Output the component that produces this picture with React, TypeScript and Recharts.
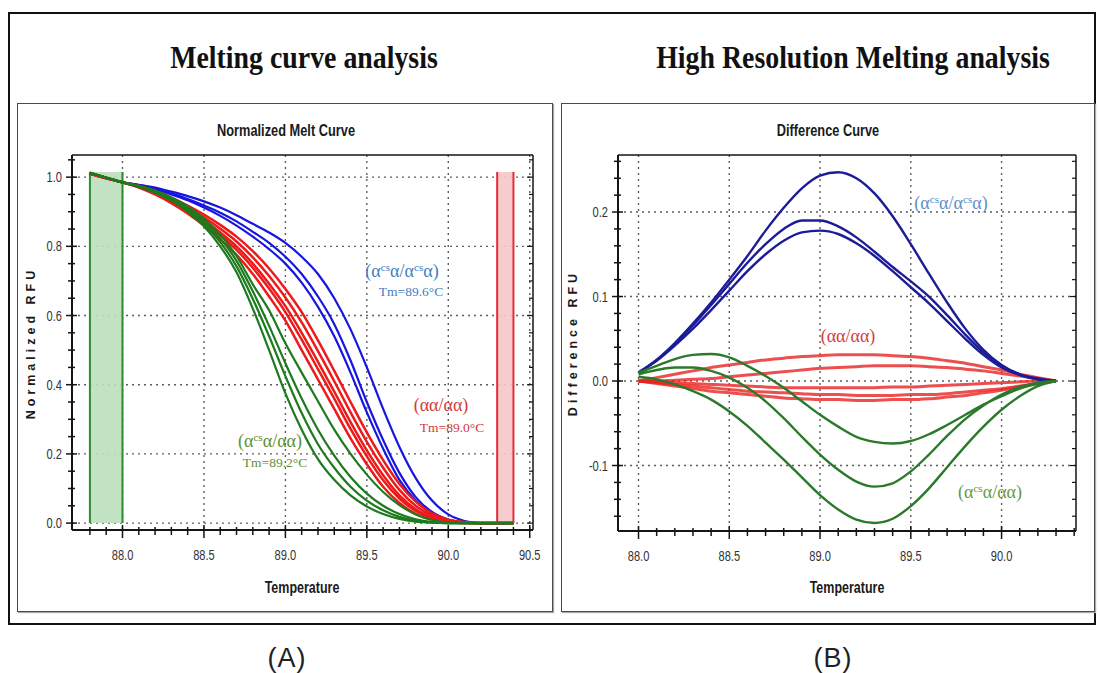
import React from "react";
import {
  LineChart,
  Line,
  XAxis,
  YAxis,
  CartesianGrid,
  ReferenceArea,
  ReferenceLine,
} from "recharts";

// ---------- (A) Normalized melt curve ----------
const MELT_TEMPS = [
  87.8, 87.9, 88.0, 88.1, 88.2, 88.3, 88.4, 88.5, 88.6, 88.7, 88.8, 88.9, 89.0, 89.1,
  89.2, 89.3, 89.4, 89.5, 89.6, 89.7, 89.8, 89.9, 90.0, 90.1, 90.2, 90.3, 90.4,
];
const MELT_BLUE_1 = [1.012, 0.998, 0.985, 0.978, 0.97, 0.958, 0.945, 0.93, 0.912, 0.89, 0.865, 0.84, 0.81, 0.77, 0.72, 0.65, 0.56, 0.45, 0.33, 0.22, 0.13, 0.065, 0.025, 0.006, 0, 0, 0];
const MELT_BLUE_2 = [1.01, 0.997, 0.985, 0.977, 0.967, 0.953, 0.937, 0.918, 0.897, 0.872, 0.842, 0.81, 0.77, 0.72, 0.655, 0.575, 0.47, 0.35, 0.24, 0.145, 0.075, 0.032, 0.01, 0.002, 0, 0, 0];
const MELT_BLUE_3 = [1.011, 0.997, 0.985, 0.976, 0.965, 0.95, 0.933, 0.912, 0.888, 0.86, 0.828, 0.792, 0.75, 0.695, 0.625, 0.54, 0.435, 0.32, 0.215, 0.125, 0.065, 0.027, 0.008, 0.001, 0, 0, 0];
const MELT_RED_1 = [1.01, 0.997, 0.985, 0.97, 0.95, 0.925, 0.895, 0.86, 0.82, 0.775, 0.72, 0.655, 0.585, 0.5, 0.415, 0.33, 0.245, 0.17, 0.105, 0.058, 0.027, 0.01, 0.003, 0, 0, 0, 0];
const MELT_RED_2 = [1.011, 0.997, 0.985, 0.972, 0.953, 0.93, 0.902, 0.869, 0.832, 0.79, 0.738, 0.678, 0.61, 0.53, 0.445, 0.36, 0.272, 0.193, 0.124, 0.071, 0.035, 0.014, 0.004, 0.001, 0, 0, 0];
const MELT_RED_3 = [1.012, 0.998, 0.985, 0.973, 0.955, 0.933, 0.906, 0.875, 0.84, 0.8, 0.75, 0.692, 0.627, 0.55, 0.466, 0.38, 0.292, 0.21, 0.138, 0.08, 0.04, 0.017, 0.005, 0.001, 0, 0, 0];
const MELT_RED_4 = [1.01, 0.998, 0.985, 0.974, 0.957, 0.937, 0.912, 0.884, 0.851, 0.814, 0.768, 0.714, 0.652, 0.58, 0.497, 0.41, 0.32, 0.235, 0.16, 0.096, 0.05, 0.022, 0.008, 0.002, 0, 0, 0];
const MELT_RED_5 = [1.011, 0.998, 0.985, 0.975, 0.96, 0.941, 0.918, 0.892, 0.862, 0.828, 0.786, 0.736, 0.677, 0.61, 0.528, 0.44, 0.35, 0.262, 0.182, 0.113, 0.062, 0.028, 0.01, 0.003, 0, 0, 0];
const MELT_GREEN_1 = [1.013, 0.999, 0.985, 0.972, 0.955, 0.932, 0.9, 0.858, 0.8, 0.725, 0.62, 0.5, 0.375, 0.27, 0.185, 0.125, 0.08, 0.048, 0.026, 0.012, 0.004, 0.001, 0, 0, 0, 0, 0];
const MELT_GREEN_2 = [1.012, 0.999, 0.985, 0.973, 0.957, 0.935, 0.905, 0.865, 0.812, 0.742, 0.648, 0.54, 0.425, 0.318, 0.228, 0.16, 0.105, 0.065, 0.037, 0.018, 0.007, 0.002, 0, 0, 0, 0, 0];
const MELT_GREEN_3 = [1.012, 0.998, 0.985, 0.974, 0.959, 0.938, 0.91, 0.872, 0.823, 0.758, 0.67, 0.57, 0.462, 0.36, 0.27, 0.195, 0.133, 0.085, 0.05, 0.026, 0.011, 0.003, 0, 0, 0, 0, 0];
const MELT_GREEN_4 = [1.013, 0.999, 0.985, 0.975, 0.961, 0.941, 0.915, 0.88, 0.834, 0.772, 0.69, 0.615, 0.52, 0.435, 0.352, 0.27, 0.2, 0.14, 0.09, 0.052, 0.025, 0.009, 0.002, 0, 0, 0, 0];

const MELT_X_MAJOR = [88.0, 88.5, 89.0, 89.5, 90.0, 90.5];
const MELT_Y_MAJOR = [0, 0.2, 0.4, 0.6, 0.8, 1.0];
const MELT_X_DOMAIN = [87.69, 90.52];
const MELT_Y_DOMAIN = [-0.02, 1.064];
const GREEN_BAND = [87.8, 88.0];
const RED_BAND = [90.3, 90.4];
const BAND_TOP = 1.015;

// ---------- (B) Difference curve ----------
const DIFF_TEMPS = [
  88.0, 88.1, 88.2, 88.3, 88.4, 88.5, 88.6, 88.7, 88.8, 88.9, 89.0, 89.1, 89.2, 89.3,
  89.4, 89.5, 89.6, 89.7, 89.8, 89.9, 90.0, 90.1, 90.2, 90.3,
];
const DIFF_BLUE_1 = [0.01, 0.025, 0.045, 0.068, 0.093, 0.12, 0.148, 0.178, 0.205, 0.228, 0.243, 0.247, 0.24, 0.222, 0.195, 0.162, 0.127, 0.093, 0.062, 0.037, 0.019, 0.008, 0.003, 0];
const DIFF_BLUE_2 = [0.01, 0.025, 0.044, 0.066, 0.09, 0.115, 0.14, 0.162, 0.18, 0.19, 0.19, 0.183, 0.17, 0.153, 0.135, 0.118, 0.1, 0.078, 0.055, 0.034, 0.018, 0.008, 0.002, 0];
const DIFF_BLUE_3 = [0.01, 0.024, 0.042, 0.062, 0.084, 0.107, 0.13, 0.15, 0.166, 0.176, 0.178, 0.174, 0.163, 0.148, 0.13, 0.111, 0.092, 0.071, 0.05, 0.031, 0.016, 0.007, 0.002, 0];
const DIFF_RED_1 = [0, 0.004, 0.008, 0.012, 0.016, 0.019, 0.022, 0.025, 0.027, 0.029, 0.03, 0.031, 0.031, 0.031, 0.03, 0.029, 0.027, 0.024, 0.021, 0.017, 0.013, 0.008, 0.004, 0];
const DIFF_RED_2 = [0, 0, 0.001, 0.002, 0.003, 0.005, 0.007, 0.009, 0.011, 0.013, 0.015, 0.016, 0.017, 0.018, 0.018, 0.018, 0.017, 0.016, 0.014, 0.012, 0.009, 0.006, 0.003, 0];
const DIFF_RED_3 = [0, -0.001, -0.002, -0.003, -0.004, -0.005, -0.006, -0.007, -0.008, -0.008, -0.008, -0.008, -0.008, -0.008, -0.007, -0.007, -0.006, -0.005, -0.004, -0.003, -0.002, -0.001, 0, 0];
const DIFF_RED_4 = [0, -0.002, -0.004, -0.006, -0.008, -0.01, -0.012, -0.013, -0.014, -0.015, -0.016, -0.016, -0.017, -0.017, -0.017, -0.016, -0.016, -0.015, -0.013, -0.011, -0.009, -0.006, -0.003, 0];
const DIFF_RED_5 = [0, -0.003, -0.006, -0.009, -0.012, -0.014, -0.016, -0.018, -0.02, -0.021, -0.022, -0.022, -0.023, -0.023, -0.022, -0.022, -0.021, -0.019, -0.017, -0.014, -0.011, -0.007, -0.003, 0];
const DIFF_GREEN_1 = [0.01, 0.018, 0.026, 0.031, 0.032, 0.028, 0.018, 0.006, -0.008, -0.024, -0.04, -0.054, -0.066, -0.072, -0.074, -0.071, -0.063, -0.052, -0.04, -0.028, -0.018, -0.009, -0.003, 0];
const DIFF_GREEN_2 = [0.008, 0.013, 0.016, 0.016, 0.012, 0.004, -0.008, -0.024, -0.044, -0.066, -0.087, -0.105, -0.119, -0.125, -0.121, -0.107, -0.087, -0.065, -0.045, -0.029, -0.016, -0.007, -0.002, 0];
const DIFF_GREEN_3 = [0.005, 0.002, -0.004, -0.012, -0.022, -0.036, -0.053, -0.073, -0.093, -0.114, -0.135, -0.152, -0.164, -0.168, -0.163, -0.148, -0.127, -0.102, -0.077, -0.054, -0.034, -0.018, -0.006, 0];

const DIFF_X_MAJOR = [88.0, 88.5, 89.0, 89.5, 90.0];
const DIFF_Y_MAJOR = [-0.1, 0, 0.1, 0.2];
const DIFF_X_DOMAIN = [87.887, 90.41];
const DIFF_Y_DOMAIN = [-0.1775, 0.2675];

// ---------- helpers ----------
const INK = "#151515";
const SERIF = '"Liberation Serif", "Times New Roman", serif';
const SANS = '"Liberation Sans", Arial, sans-serif';

function steps(from: number, to: number, step: number) {
  const out: number[] = [];
  const n = Math.round((to - from) / step);
  for (let i = 0; i <= n; i++) out.push(Math.round((from + i * step) * 1000) / 1000);
  return out;
}

const MELT_X_TICKS = steps(87.8, 90.5, 0.1);
const MELT_Y_TICKS = steps(0, 1.05, 0.05);
const DIFF_X_TICKS = steps(88.0, 90.4, 0.1);
const DIFF_Y_TICKS = steps(-0.16, 0.26, 0.02);

const near = (v: number, list: number[]) => list.some((m) => Math.abs(m - v) < 1e-6);

// narrow tick label (the original uses a condensed face)
const TickText = ({ x, y, anchor, children }: any) => (
  <text
    transform={`translate(${x},${y}) scale(0.74,1)`}
    textAnchor={anchor}
    fontSize={15}
    fontFamily={SANS}
    fill="#333"
  >
    {children}
  </text>
);

const bottomTick = (majors: number[]) => (p: any) => {
  const major = near(p.payload.value, majors);
  return (
    <g>
      <line x1={p.x} x2={p.x} y1={p.y - (major ? 5 : 3)} y2={p.y + (major ? 8 : 5)} stroke={INK} strokeWidth={1.5} />
      {major && (
        <TickText x={p.x} y={p.y + 30} anchor="middle">
          {p.payload.value.toFixed(1)}
        </TickText>
      )}
    </g>
  );
};

const leftTick = (majors: number[]) => (p: any) => {
  const major = near(p.payload.value, majors);
  return (
    <g>
      <line x1={p.x - (major ? 6 : 4)} x2={p.x + (major ? 5 : 3)} y1={p.y} y2={p.y} stroke={INK} strokeWidth={1.5} />
      {major && (
        <TickText x={p.x - 10} y={p.y + 5} anchor="end">
          {p.payload.value.toFixed(1)}
        </TickText>
      )}
    </g>
  );
};

const topTick = (majors: number[]) => (p: any) => {
  const major = near(p.payload.value, majors);
  return <line x1={p.x} x2={p.x} y1={p.y} y2={p.y + (major ? 6 : 4)} stroke={INK} strokeWidth={1.2} />;
};

const rightTick = (majors: number[]) => (p: any) => {
  const major = near(p.payload.value, majors);
  return <line x1={p.x} x2={p.x - (major ? 6 : 4)} y1={p.y} y2={p.y} stroke={INK} strokeWidth={1.2} />;
};

const meltData = MELT_TEMPS.map((t, i) => ({
  t,
  b1: MELT_BLUE_1[i], b2: MELT_BLUE_2[i], b3: MELT_BLUE_3[i],
  r1: MELT_RED_1[i], r2: MELT_RED_2[i], r3: MELT_RED_3[i], r4: MELT_RED_4[i], r5: MELT_RED_5[i],
  g1: MELT_GREEN_1[i], g2: MELT_GREEN_2[i], g3: MELT_GREEN_3[i], g4: MELT_GREEN_4[i],
}));

const diffData = DIFF_TEMPS.map((t, i) => ({
  t,
  b1: DIFF_BLUE_1[i], b2: DIFF_BLUE_2[i], b3: DIFF_BLUE_3[i],
  r1: DIFF_RED_1[i], r2: DIFF_RED_2[i], r3: DIFF_RED_3[i], r4: DIFF_RED_4[i], r5: DIFF_RED_5[i],
  g1: DIFF_GREEN_1[i], g2: DIFF_GREEN_2[i], g3: DIFF_GREEN_3[i],
}));

const abs = (left: number, top: number): React.CSSProperties => ({ position: "absolute", left, top });
const centered = (cx: number, cy: number, extra = ""): React.CSSProperties => ({
  position: "absolute",
  left: cx,
  top: cy,
  transform: `translate(-50%, -50%) ${extra}`,
  whiteSpace: "nowrap",
  lineHeight: 1,
});
const SUP: React.CSSProperties = { fontSize: "0.62em", position: "relative", top: "-0.5em" };

const frameStyle = (left: number, width: number): React.CSSProperties => ({
  ...abs(left, 103),
  width,
  height: 509,
  boxSizing: "border-box",
  border: "1.5px solid #4a4a4a",
  boxShadow: "1px 1px 1px #aaa",
});

const condensedBold: React.CSSProperties = { fontFamily: SANS, fontWeight: 700, fontSize: 16, color: "#1a1a1a" };
const yTitle = (cx: number): React.CSSProperties => ({
  ...centered(cx, 343, "rotate(-90deg)"),
  fontFamily: SANS,
  fontWeight: 700,
  fontSize: 12.5,
  letterSpacing: 4,
  color: "#1a1a1a",
});
const bigTitle: React.CSSProperties = { fontFamily: SERIF, fontWeight: 700, fontSize: 29, color: "#111" };

const lineProps = { type: "monotone" as const, dot: false, isAnimationActive: false };
const MELT_BLUE = "#1616e0";
const MELT_RED = "#ee1a1a";
const MELT_GREEN = "#1d7a1d";
const DIFF_BLUE = "#1c1c98";
const DIFF_RED = "#e82222";
const DIFF_GREEN = "#2a7a2a";

export default function App() {
  return (
    <div style={{ ...abs(0, 0), width: 1100, height: 673, background: "#fff" }}>
      {/* outer frame */}
      <div style={{ ...abs(8, 12), width: 1088, height: 613, boxSizing: "border-box", border: "2px solid #111" }} />

      <div style={{ ...centered(304, 58, "scale(0.96, 1.08)"), ...bigTitle }}>Melting curve analysis</div>
      <div style={{ ...centered(853, 58, "scale(0.96, 1.08)"), ...bigTitle }}>High Resolution Melting analysis</div>

      {/* panel A */}
      <div style={frameStyle(17, 536)} />
      <div style={abs(17, 103)}>
        <LineChart width={536} height={509} data={meltData} margin={{ top: 52, right: 20, bottom: 52, left: 15 }}>
          <CartesianGrid
            verticalValues={MELT_X_MAJOR}
            horizontalValues={MELT_Y_MAJOR}
            stroke="#5e5e5e"
            strokeWidth={1.4}
            strokeDasharray="2 4"
          />
          <XAxis
            dataKey="t"
            type="number"
            domain={MELT_X_DOMAIN}
            allowDataOverflow
            ticks={MELT_X_TICKS}
            interval={0}
            height={30}
            tickSize={0}
            tickMargin={0}
            tickLine={false}
            axisLine={{ stroke: INK, strokeWidth: 2 }}
            tick={bottomTick(MELT_X_MAJOR)}
          />
          <XAxis
            xAxisId="top"
            orientation="top"
            mirror
            type="number"
            domain={MELT_X_DOMAIN}
            allowDataOverflow
            ticks={MELT_X_TICKS}
            interval={0}
            tickSize={0}
            tickMargin={0}
            tickLine={false}
            axisLine={{ stroke: INK, strokeWidth: 1.5 }}
            tick={topTick(MELT_X_MAJOR)}
          />
          <YAxis
            type="number"
            domain={MELT_Y_DOMAIN}
            allowDataOverflow
            ticks={MELT_Y_TICKS}
            interval={0}
            width={40}
            tickSize={0}
            tickMargin={0}
            tickLine={false}
            axisLine={{ stroke: INK, strokeWidth: 2 }}
            tick={leftTick(MELT_Y_MAJOR)}
          />
          <YAxis
            yAxisId="right"
            orientation="right"
            mirror
            type="number"
            domain={MELT_Y_DOMAIN}
            allowDataOverflow
            ticks={MELT_Y_TICKS}
            interval={0}
            tickSize={0}
            tickMargin={0}
            tickLine={false}
            axisLine={{ stroke: INK, strokeWidth: 1.5 }}
            tick={rightTick(MELT_Y_MAJOR)}
          />
          <ReferenceArea x1={GREEN_BAND[0]} x2={GREEN_BAND[1]} y1={0} y2={BAND_TOP} fill="#bcdfbc" fillOpacity={0.9} stroke="none" />
          <ReferenceArea x1={RED_BAND[0]} x2={RED_BAND[1]} y1={0} y2={BAND_TOP} fill="#f7c6c6" fillOpacity={0.9} stroke="none" />
          <ReferenceLine segment={[{ x: GREEN_BAND[0], y: 0 }, { x: GREEN_BAND[0], y: BAND_TOP }]} stroke="#2e8b2e" strokeWidth={2} />
          <ReferenceLine segment={[{ x: GREEN_BAND[1], y: 0 }, { x: GREEN_BAND[1], y: BAND_TOP }]} stroke="#2e8b2e" strokeWidth={2} />
          <ReferenceLine segment={[{ x: RED_BAND[0], y: 0 }, { x: RED_BAND[0], y: BAND_TOP }]} stroke="#e42b3c" strokeWidth={2} />
          <ReferenceLine segment={[{ x: RED_BAND[1], y: 0 }, { x: RED_BAND[1], y: BAND_TOP }]} stroke="#e42b3c" strokeWidth={2} />
          <Line {...lineProps} dataKey="b1" stroke={MELT_BLUE} strokeWidth={2.2} />
          <Line {...lineProps} dataKey="b2" stroke={MELT_BLUE} strokeWidth={2.2} />
          <Line {...lineProps} dataKey="b3" stroke={MELT_BLUE} strokeWidth={2.2} />
          <Line {...lineProps} dataKey="r1" stroke={MELT_RED} strokeWidth={2.5} />
          <Line {...lineProps} dataKey="r2" stroke={MELT_RED} strokeWidth={2.5} />
          <Line {...lineProps} dataKey="r3" stroke={MELT_RED} strokeWidth={2.5} />
          <Line {...lineProps} dataKey="r4" stroke={MELT_RED} strokeWidth={2.5} />
          <Line {...lineProps} dataKey="r5" stroke={MELT_RED} strokeWidth={2.5} />
          <Line {...lineProps} dataKey="g1" stroke={MELT_GREEN} strokeWidth={2.2} />
          <Line {...lineProps} dataKey="g2" stroke={MELT_GREEN} strokeWidth={2.2} />
          <Line {...lineProps} dataKey="g3" stroke={MELT_GREEN} strokeWidth={2.2} />
          <Line {...lineProps} dataKey="g4" stroke={MELT_GREEN} strokeWidth={2.2} />
        </LineChart>
      </div>
      <div style={{ ...centered(286, 131, "scale(0.8, 1.05)"), ...condensedBold }}>Normalized Melt Curve</div>
      <div style={{ ...centered(302, 588, "scale(0.78, 1.05)"), ...condensedBold }}>Temperature</div>
      <div style={yTitle(31)}>Normalized RFU</div>

      <div style={{ ...centered(402, 271), fontFamily: SERIF, fontSize: 18, color: "#3f80c2" }}>
        (α<span style={SUP}>cs</span>α/α<span style={SUP}>cs</span>α)
      </div>
      <div style={{ ...centered(411, 292), fontFamily: SERIF, fontSize: 13.5, color: "#3f80c2" }}>Tm=89.6°C</div>
      <div style={{ ...centered(441, 405), fontFamily: SERIF, fontSize: 18, color: "#d43a3a" }}>(αα/αα)</div>
      <div style={{ ...centered(452, 428), fontFamily: SERIF, fontSize: 13.5, color: "#d43a3a" }}>Tm=89.0°C</div>
      <div style={{ ...centered(270, 441), fontFamily: SERIF, fontSize: 18, color: "#5e8f3a" }}>
        (α<span style={SUP}>cs</span>α/αα)
      </div>
      <div style={{ ...centered(275, 463), fontFamily: SERIF, fontSize: 13.5, color: "#5e8f3a" }}>Tm=89.2°C</div>

      {/* panel B */}
      <div style={frameStyle(561, 534)} />
      <div style={abs(561, 103)}>
        <LineChart width={534} height={509} data={diffData} margin={{ top: 52, right: 19, bottom: 51, left: 17 }}>
          <CartesianGrid
            verticalValues={DIFF_X_MAJOR}
            horizontalValues={DIFF_Y_MAJOR}
            stroke="#5e5e5e"
            strokeWidth={1.4}
            strokeDasharray="2 4"
          />
          <XAxis
            dataKey="t"
            type="number"
            domain={DIFF_X_DOMAIN}
            allowDataOverflow
            ticks={DIFF_X_TICKS}
            interval={0}
            height={30}
            tickSize={0}
            tickMargin={0}
            tickLine={false}
            axisLine={{ stroke: INK, strokeWidth: 2 }}
            tick={bottomTick(DIFF_X_MAJOR)}
          />
          <XAxis
            xAxisId="top"
            orientation="top"
            mirror
            type="number"
            domain={DIFF_X_DOMAIN}
            allowDataOverflow
            ticks={DIFF_X_TICKS}
            interval={0}
            tickSize={0}
            tickMargin={0}
            tickLine={false}
            axisLine={{ stroke: INK, strokeWidth: 1.5 }}
            tick={topTick(DIFF_X_MAJOR)}
          />
          <YAxis
            type="number"
            domain={DIFF_Y_DOMAIN}
            allowDataOverflow
            ticks={DIFF_Y_TICKS}
            interval={0}
            width={40}
            tickSize={0}
            tickMargin={0}
            tickLine={false}
            axisLine={{ stroke: INK, strokeWidth: 2 }}
            tick={leftTick(DIFF_Y_MAJOR)}
          />
          <YAxis
            yAxisId="right"
            orientation="right"
            mirror
            type="number"
            domain={DIFF_Y_DOMAIN}
            allowDataOverflow
            ticks={DIFF_Y_TICKS}
            interval={0}
            tickSize={0}
            tickMargin={0}
            tickLine={false}
            axisLine={{ stroke: INK, strokeWidth: 1.5 }}
            tick={rightTick(DIFF_Y_MAJOR)}
          />
          <Line {...lineProps} dataKey="r1" stroke={DIFF_RED} strokeWidth={3} strokeOpacity={0.8} />
          <Line {...lineProps} dataKey="r2" stroke={DIFF_RED} strokeWidth={3} strokeOpacity={0.8} />
          <Line {...lineProps} dataKey="r3" stroke={DIFF_RED} strokeWidth={3} strokeOpacity={0.8} />
          <Line {...lineProps} dataKey="r4" stroke={DIFF_RED} strokeWidth={3} strokeOpacity={0.8} />
          <Line {...lineProps} dataKey="r5" stroke={DIFF_RED} strokeWidth={3} strokeOpacity={0.8} />
          <Line {...lineProps} dataKey="b1" stroke={DIFF_BLUE} strokeWidth={2.4} />
          <Line {...lineProps} dataKey="b2" stroke={DIFF_BLUE} strokeWidth={2.4} />
          <Line {...lineProps} dataKey="b3" stroke={DIFF_BLUE} strokeWidth={2.4} />
          <Line {...lineProps} dataKey="g1" stroke={DIFF_GREEN} strokeWidth={2.4} />
          <Line {...lineProps} dataKey="g2" stroke={DIFF_GREEN} strokeWidth={2.4} />
          <Line {...lineProps} dataKey="g3" stroke={DIFF_GREEN} strokeWidth={2.4} />
        </LineChart>
      </div>
      <div style={{ ...centered(828, 131, "scale(0.8, 1.05)"), ...condensedBold }}>Difference Curve</div>
      <div style={{ ...centered(847, 588, "scale(0.78, 1.05)"), ...condensedBold }}>Temperature</div>
      <div style={yTitle(573)}>Difference RFU</div>

      <div style={{ ...centered(951, 203), fontFamily: SERIF, fontSize: 18, color: "#5b8fca" }}>
        (α<span style={SUP}>cs</span>α/α<span style={SUP}>cs</span>α)
      </div>
      <div style={{ ...centered(848, 336), fontFamily: SERIF, fontSize: 18, color: "#d04040" }}>(αα/αα)</div>
      <div style={{ ...centered(990, 492), fontFamily: SERIF, fontSize: 18, color: "#6a9a40" }}>
        (α<span style={SUP}>cs</span>α/αα)
      </div>

      <div style={{ ...centered(287, 658), fontFamily: SANS, fontSize: 27, letterSpacing: 1, color: "#222" }}>(A)</div>
      <div style={{ ...centered(833, 658), fontFamily: SANS, fontSize: 27, letterSpacing: 1, color: "#222" }}>(B)</div>
    </div>
  );
}
